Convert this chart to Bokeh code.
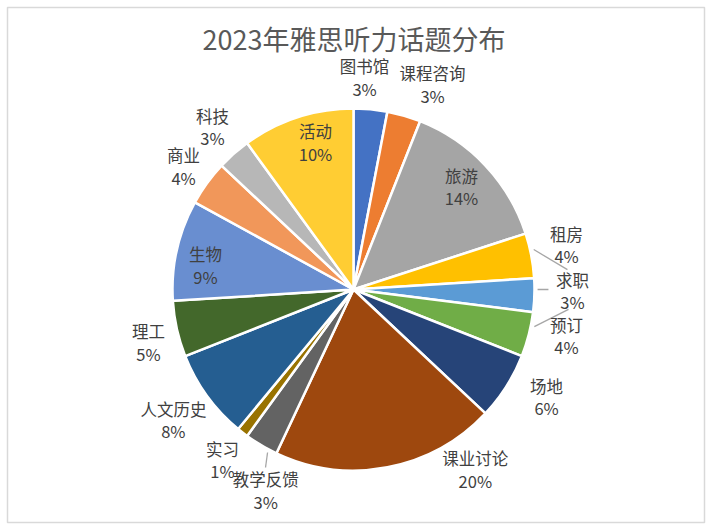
import math
from bokeh.plotting import figure
from bokeh.core.properties import value
from bokeh.embed import file_html
from bokeh.resources import INLINE

# ---- data ----
title_text = "2023年雅思听力话题分布"
topics = ["图书馆", "课程咨询", "旅游", "租房", "求职", "预订", "场地", "课业讨论",
          "教学反馈", "实习", "人文历史", "理工", "生物", "商业", "科技", "活动"]
shares = [3, 3, 14, 4, 3, 4, 6, 20, 3, 1, 8, 5, 9, 4, 3, 10]

# ---- style / layout ----
colors = ["#4472C4", "#ED7D31", "#A5A5A5", "#FFC000", "#5B9BD5", "#70AD47",
          "#264478", "#9E480E", "#636363", "#997300", "#255E91", "#43682B",
          "#698ED0", "#F1975A", "#B7B7B7", "#FFCD33"]
# label placement: radial factor and angular shift (degrees, clockwise) from slice middle
label_r = [1.173, 1.214, 0.824, 1.203, 1.21, 1.204, 1.222, 1.201,
           1.212, 1.186, 1.23, 1.17, 0.828, 1.159, 1.187, 0.839]
label_shift = [-2.4, 4.9, -0.4, -1.1, -1.5, -2.2, -3.2, -23.3,
               -7.0, -0.2, 0.0, -1.9, -3.4, -0.1, 0.4, 3.5]
# leader lines: slice index, start (r, shift), end (r, shift)
leaders = [(3, 1.02, -1.7, 1.187, 5.5),
           (4, 1.017, -1.8, 1.077, -1.8),
           (5, 1.02, -2.8, 1.193, -9.1),
           (8, 1.018, -2.8, 1.097, -4.3)]

W, H = 710, 529
BL, BT, BR, BB = 7, 7, 6, 7
FW, FH = W - BL - BR, H - BT - BB
R_PX = 181.0
CX, CY = 353.0 - BL, 289.0 - BT  # pie centre in frame pixels (from top-left)
TITLE_Y = 37.5 - BT

total = float(sum(shares))
starts, ends, mids = [], [], []
acc = 0.0
for s in shares:
    a0 = acc / total * 360.0
    acc += s
    a1 = acc / total * 360.0
    starts.append(a0)
    ends.append(a1)
    mids.append((a0 + a1) / 2.0)

def to_rad(deg_clock_from_top):
    return math.radians(90.0 - deg_clock_from_top)

def polar(r, deg):
    t = to_rad(deg)
    return r * math.cos(t), r * math.sin(t)

p = figure(width=W, height=H, output_backend="svg", toolbar_location=None,
           x_range=(-CX / R_PX, (FW - CX) / R_PX),
           y_range=(-(FH - CY) / R_PX, CY / R_PX),
           min_border_left=BL, min_border_top=BT,
           min_border_right=BR, min_border_bottom=BB)
p.axis.visible = False
p.grid.visible = False
p.outline_line_color = "#D9D9D9"
p.outline_line_width = 1.5
p.background_fill_color = "white"
p.border_fill_color = "white"

p.wedge(x=0, y=0, radius=1.0,
        start_angle=[to_rad(a) for a in starts],
        end_angle=[to_rad(a) for a in ends],
        direction="clock", fill_color=colors, line_color="white",
        line_width=2.5)

# leader lines
for idx, r0, s0, r1, s1 in leaders:
    x0, y0 = polar(r0, mids[idx] + s0)
    x1, y1 = polar(r1, mids[idx] + s1)
    p.line([x0, x1], [y0, y1], line_color="#A6A6A6", line_width=1.3)

lx, ly, lt = [], [], []
for i, (name, s) in enumerate(zip(topics, shares)):
    x, y = polar(label_r[i], mids[i] + label_shift[i])
    lx.append(x)
    ly.append(y)
    lt.append(f"{name}\n{s}%")
p.text(x=lx, y=ly, text=lt, text_align="center", text_baseline="middle",
       text_font=value("Noto Sans CJK SC"), text_font_size="16.5px",
       text_color="#404040", text_line_height=0.92)

p.text(x=[0.5 / R_PX], y=[(CY - TITLE_Y) / R_PX], text=[title_text],
       text_align="center", text_baseline="middle",
       text_font=value("Noto Sans CJK SC"), text_font_size="27px",
       text_color="#595959")

open("out.html", "w").write(file_html(p, INLINE))
